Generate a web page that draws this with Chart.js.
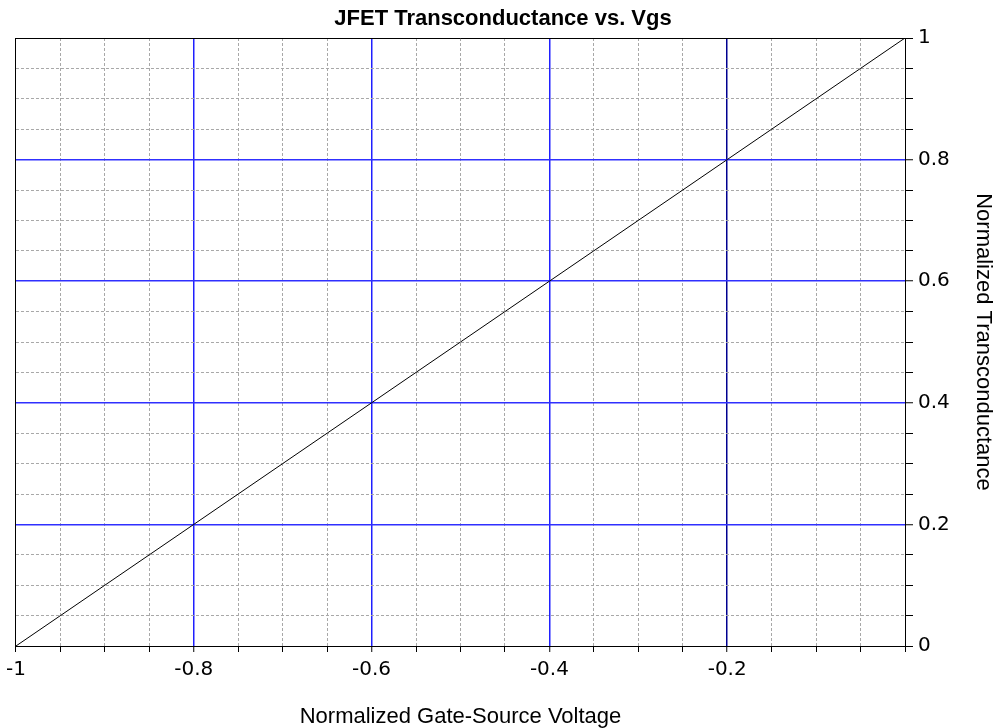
<!DOCTYPE html>
<html>
<head>
<meta charset="utf-8">
<script src="https://cdn.jsdelivr.net/npm/chart.js@4"></script>
<style>
  html, body { margin: 0; padding: 0; background: #ffffff; }
  #c { display: block; }
</style>
</head>
<body>
<canvas id="c" width="996" height="728"></canvas>
<script>
// ---- data ----
const vgs = [-1, -0.95, -0.9, -0.85, -0.8, -0.75, -0.7, -0.65, -0.6, -0.55, -0.5,
             -0.45, -0.4, -0.35, -0.3, -0.25, -0.2, -0.15, -0.1, -0.05, 0];
const gm  = [0, 0.05, 0.1, 0.15, 0.2, 0.25, 0.3, 0.35, 0.4, 0.45, 0.5,
             0.55, 0.6, 0.65, 0.7, 0.75, 0.8, 0.85, 0.9, 0.95, 1];
const xTickValues = [-1, -0.8, -0.6, -0.4, -0.2];
const xTickLabels = ['-1', '-0.8', '-0.6', '-0.4', '-0.2'];
const yTickValues = [0, 0.2, 0.4, 0.6, 0.8, 1];
const yTickLabels = ['0', '0.2', '0.4', '0.6', '0.8', '1'];

const titleText = 'JFET Transconductance vs. Vgs';
const xTitle = 'Normalized Gate-Source Voltage';
const yTitle = 'Normalized Transconductance';

function near(a, b) { return Math.abs(a - b) < 1e-6; }
function labelFor(values, labels, v) {
  for (let i = 0; i < values.length; i++) if (near(values[i], v)) return labels[i];
  return '';
}
function tickVal(ctx) {
  const s = ctx.scale;
  if (s && s.ticks && s.ticks[ctx.index]) return s.ticks[ctx.index].value;
  return ctx.tick ? ctx.tick.value : NaN;
}
function isMajor(values, v) { return values.some(x => near(x, v)); }

const points = vgs.map((x, i) => ({ x: x, y: gm[i] }));

const tickFont = { family: 'DejaVu Sans', size: 20 };
const axTitleFont = { family: 'Liberation Sans', size: 22, lineHeight: 1 };

new Chart(document.getElementById('c'), {
  type: 'line',
  data: {
    datasets: [{
      data: points,
      borderColor: '#000000',
      borderWidth: 1,
      pointRadius: 0,
      tension: 0,
      fill: false
    }]
  },
  options: {
    responsive: false,
    animation: false,
    layout: { padding: { left: 10, right: 0, top: 0, bottom: 0 } },
    plugins: {
      legend: { display: false },
      tooltip: { enabled: false },
      title: {
        display: true,
        text: titleText,
        color: '#000000',
        font: { family: 'Liberation Sans', size: 22, weight: 'bold', lineHeight: 1.2 },
        padding: { top: 6, bottom: 5.6 }
      }
    },
    scales: {
      x: {
        type: 'linear',
        position: 'bottom',
        min: -1,
        max: 0,
        afterFit: s => { s.height = 82; },
        ticks: {
          stepSize: 0.05,
          autoSkip: false,
          maxRotation: 0,
          padding: 6,
          color: '#000000',
          font: tickFont,
          callback: v => labelFor(xTickValues, xTickLabels, v)
        },
        grid: {
          drawTicks: true,
          tickLength: 6,
          tickColor: '#000000',
          tickWidth: 1,
          lineWidth: ctx => {
            const v = tickVal(ctx);
            if (isMajor(xTickValues, v) && !near(v, -1)) return 1.5;
            return 1;
          },
          color: ctx => {
            const v = tickVal(ctx);
            if (near(v, -1) || near(v, 0)) return '#000000';
            if (near(v, -0.2)) return '#000090';
            if (isMajor(xTickValues, v)) return '#2020ff';
            return '#a8a8a8';
          }
        },
        border: {
          display: true,
          color: '#000000',
          width: 1,
          dash: ctx => {
            const v = tickVal(ctx);
            if (isMajor(xTickValues, v) || near(v, 0)) return [];
            return [3, 2];
          }
        },
        title: {
          display: true,
          text: xTitle,
          color: '#000000',
          font: axTitleFont,
          padding: { top: 0, bottom: 0 }
        }
      },
      y: {
        type: 'linear',
        position: 'right',
        min: 0,
        max: 1,
        afterFit: s => { s.width = 91; },
        ticks: {
          stepSize: 0.05,
          autoSkip: false,
          padding: 5,
          color: '#000000',
          font: tickFont,
          callback: v => labelFor(yTickValues, yTickLabels, v)
        },
        grid: {
          drawTicks: true,
          tickLength: 8,
          tickColor: '#000000',
          tickWidth: 1,
          lineWidth: ctx => {
            const v = tickVal(ctx);
            if (isMajor(yTickValues, v) && !near(v, 0) && !near(v, 1)) return 1.5;
            return 1;
          },
          color: ctx => {
            const v = tickVal(ctx);
            if (near(v, 0) || near(v, 1)) return '#000000';
            if (isMajor(yTickValues, v)) return '#3030ff';
            return '#a8a8a8';
          }
        },
        border: {
          display: true,
          color: '#000000',
          width: 1,
          dash: ctx => {
            const v = tickVal(ctx);
            if (isMajor(yTickValues, v)) return [];
            return [3, 2];
          }
        },
        title: {
          display: true,
          text: yTitle,
          color: '#000000',
          font: axTitleFont,
          padding: { top: 2, bottom: 0 }
        }
      }
    }
  }
});
</script>
</body>
</html>
